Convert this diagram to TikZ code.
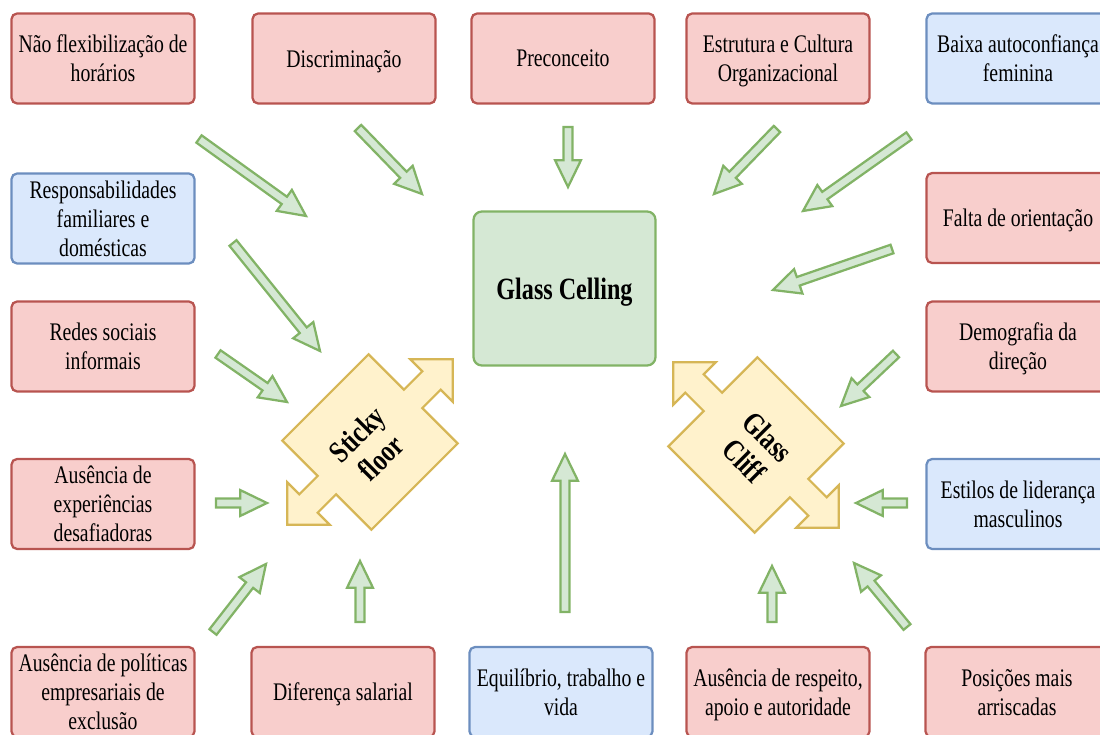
\documentclass[tikz,border=0pt]{standalone}
\usepackage{fontspec}
\setmainfont{Liberation Serif}[FakeStretch=0.78]
\usetikzlibrary{calc}

\definecolor{redfill}{HTML}{F8CECC}
\definecolor{redline}{HTML}{B85450}
\definecolor{bluefill}{HTML}{DAE8FC}
\definecolor{blueline}{HTML}{6C8EBF}
\definecolor{greenfill}{HTML}{D5E8D4}
\definecolor{greenline}{HTML}{82B366}
\definecolor{yellowfill}{HTML}{FFF2CC}
\definecolor{yellowline}{HTML}{D6B656}

% hollow block arrow from #1 to the tip #2
\newcommand{\fatarrow}[2]{%
  \draw[fat] ($(#1)!3.2pt!90:(#2)$)
    -- ($(#2)!19pt!(#1)!3.2pt!-90:(#1)$)
    -- ($(#2)!19pt!(#1)!9.2pt!-90:(#1)$)
    -- (#2)
    -- ($(#2)!19pt!(#1)!9.2pt!90:(#1)$)
    -- ($(#2)!19pt!(#1)!3.2pt!90:(#1)$)
    -- ($(#1)!3.2pt!-90:(#2)$) -- cycle;}

\begin{document}
\begin{tikzpicture}[x=0.025cm,y=-0.025cm,
  cause/.style={rounded corners=4pt,line width=1.6pt,minimum width=4.575cm,minimum height=2.25cm,align=center,font=\fontsize{18}{20.6}\selectfont,inner sep=2pt,text depth=0pt},
  redcause/.style={cause,draw=redline,fill=redfill},
  bluecause/.style={cause,draw=blueline,fill=bluefill},
  fat/.style={draw=greenline,fill=greenfill,line width=1.6pt,line join=miter},
  twoway/.style={draw=yellowline,fill=yellowfill,line width=1.6pt,line join=miter},
  tilted/.style={align=center,font=\bfseries\fontsize{22}{24}\selectfont}]
\useasboundingbox (0,0) rectangle (1100,735);
\clip (0,0) rectangle (1100,735);

% top row
\node[redcause] (flex) at (103,58.5) {Não flexibilização de\\horários};
\node[redcause] (discr) at (344,58.5) {Discriminação};
\node[redcause] (prec) at (563,58.5) {Preconceito};
\node[redcause] (estr) at (778,58.5) {Estrutura e Cultura\\Organizacional};
\node[bluecause] (baixa) at (1018,58.5) {Baixa autoconfiança\\feminina};
% left column
\node[bluecause] (familia) at (103,218.5) {Responsabilidades\\familiares e\\domésticas};
\node[redcause] (redes) at (103,346.5) {Redes sociais\\informais};
\node[redcause] (experiencias) at (103,504) {Ausência de\\experiências\\desafiadoras};
\node[redcause] (politicas) at (103,692) {Ausência de políticas\\empresariais de\\exclusão};
% bottom row
\node[redcause] (salario) at (343,692) {Diferença salarial};
\node[bluecause] (equil) at (561,692) {Equilíbrio, trabalho e\\vida};
\node[redcause] (respeito) at (778,692) {Ausência de respeito,\\apoio e autoridade};
\node[redcause] (posic) at (1017,692) {Posições mais\\arriscadas};
% right column
\node[redcause] (falta) at (1018,218) {Falta de orientação};
\node[redcause] (demo) at (1018,346.5) {Demografia da\\direção};
\node[bluecause] (estilos) at (1018,504) {Estilos de liderança\\masculinos};

% centre
\node[draw=greenline,fill=greenfill,rounded corners=6pt,line width=1.6pt,minimum width=4.55cm,minimum height=3.85cm,font=\bfseries\fontsize{22}{24}\selectfont,text depth=0pt] (ceiling) at (564.5,288.5) {Glass Celling};

\foreach \cx/\cy/\ang in {370/442/45, 756/445/135}{
  \begin{scope}[shift={(\cx,\cy)},rotate=\ang]
    \draw[twoway] (-61,-63) -- (61,-63) -- (61,-13) -- (87,-13) -- (87,-30) -- (117,0)
      -- (87,30) -- (87,13) -- (61,13) -- (61,63) -- (-61,63) -- (-61,13) -- (-87,13)
      -- (-87,30) -- (-117,0) -- (-87,-30) -- (-87,-13) -- (-61,-13) -- cycle;
  \end{scope}
}
\node[tilted,rotate=45] (sticky) at (369,446) {Sticky\\floor};
\node[tilted,rotate=-45] (cliff) at (756,449) {Glass\\Cliff};

% arrows towards the centre
\coordinate (flex-s) at (199,139); \coordinate (flex-t) at (306,216);
\coordinate (discr-s) at (358,128); \coordinate (discr-t) at (422,194);
\coordinate (prec-s) at (568,127); \coordinate (prec-t) at (568,187);
\coordinate (estr-s) at (777,129); \coordinate (estr-t) at (714,194);
\coordinate (baixa-s) at (909,136); \coordinate (baixa-t) at (803,211);
\coordinate (falta-s) at (892,249); \coordinate (falta-t) at (773,290);
\coordinate (demo-s) at (896,354); \coordinate (demo-t) at (841,406);
\coordinate (estilos-s) at (907,503); \coordinate (estilos-t) at (856,503);
\coordinate (posic-s) at (907,627); \coordinate (posic-t) at (854,563);
\coordinate (respeito-s) at (772,622); \coordinate (respeito-t) at (772,566);
\coordinate (equil-s) at (565,612); \coordinate (equil-t) at (565,454);
\coordinate (salario-s) at (360,622); \coordinate (salario-t) at (360,561);
\coordinate (politicas-s) at (213,632); \coordinate (politicas-t) at (266,564);
\coordinate (experiencias-s) at (216,503); \coordinate (experiencias-t) at (267,503);
\coordinate (redes-s) at (218,354); \coordinate (redes-t) at (287,402);
\coordinate (familia-s) at (233,243); \coordinate (familia-t) at (320,351);
\fatarrow{flex-s}{flex-t}
\fatarrow{discr-s}{discr-t}
\fatarrow{prec-s}{prec-t}
\fatarrow{estr-s}{estr-t}
\fatarrow{baixa-s}{baixa-t}
\fatarrow{falta-s}{falta-t}
\fatarrow{demo-s}{demo-t}
\fatarrow{estilos-s}{estilos-t}
\fatarrow{posic-s}{posic-t}
\fatarrow{respeito-s}{respeito-t}
\fatarrow{equil-s}{equil-t}
\fatarrow{salario-s}{salario-t}
\fatarrow{politicas-s}{politicas-t}
\fatarrow{experiencias-s}{experiencias-t}
\fatarrow{redes-s}{redes-t}
\fatarrow{familia-s}{familia-t}
\end{tikzpicture}
\end{document}
